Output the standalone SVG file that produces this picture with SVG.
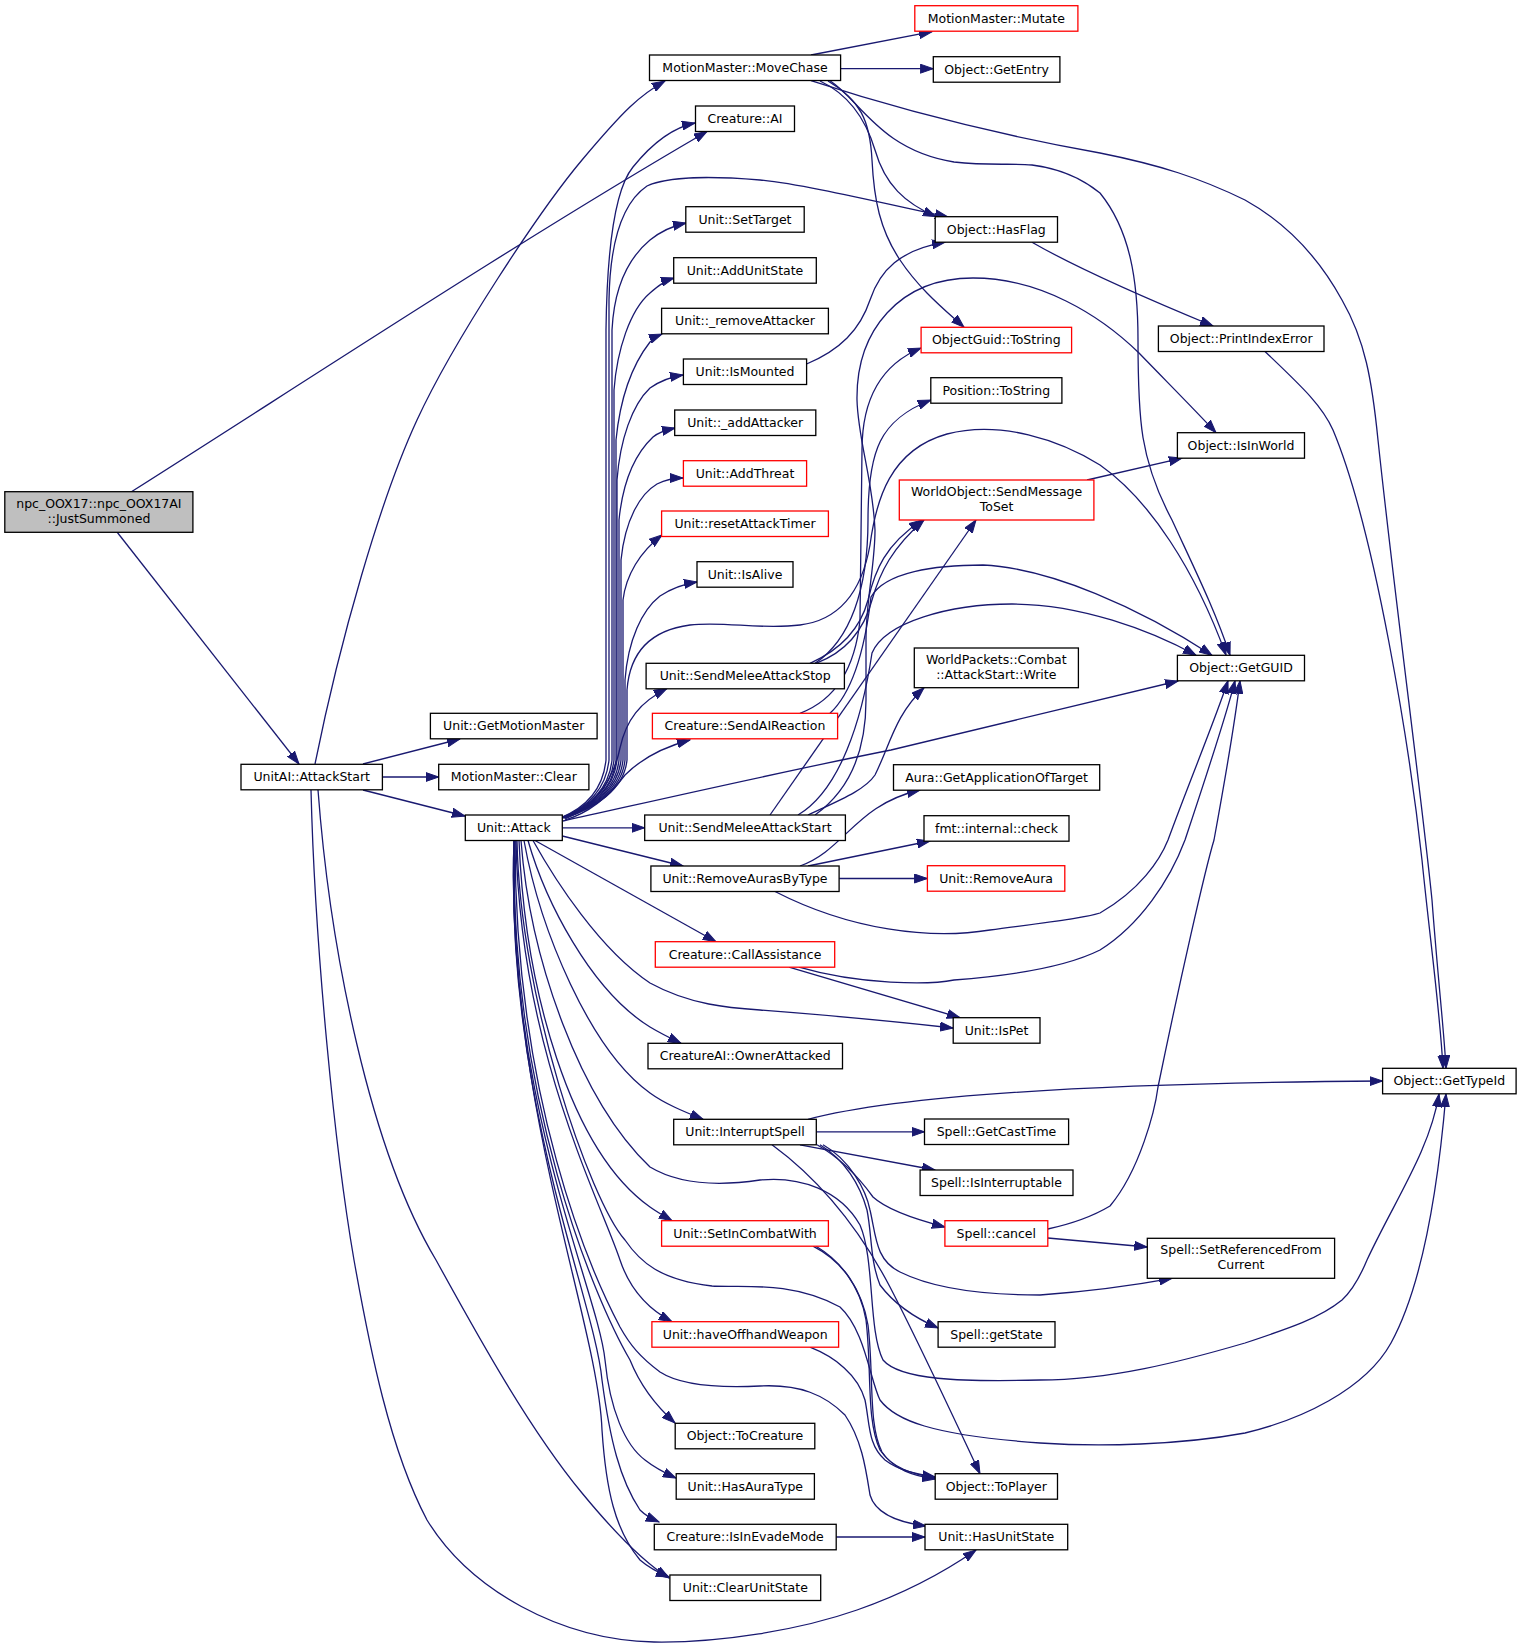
<svg xmlns="http://www.w3.org/2000/svg" width="1521" height="1648" viewBox="0 0 1521 1648">
<style>
.n rect{fill:#fff;stroke:#000;stroke-width:1.3}
.r rect{stroke:#f00}
.g rect{fill:#bfbfbf}
text{font-family:"DejaVu Sans",sans-serif;font-size:12.5px;text-anchor:middle;fill:#000}
.e path{fill:none;stroke:#191970;stroke-width:1.3;marker-end:url(#a)}
</style>
<defs>
<marker id="a" markerUnits="userSpaceOnUse" markerWidth="14" markerHeight="10" refX="13" refY="5" orient="auto"><path d="M0,0.5 L13,5 L0,9.5 z" fill="#191970" stroke="#191970" stroke-width="1"/></marker>
</defs>
<rect width="1521" height="1648" fill="#fff"/>
<g id="edges" class="e">
<path d="M131,492 C300,385 520,240 707,131.5"/>
<path d="M117,532 L299,764"/>
<path d="M315,764 C340,640 380,500 417,420 C454,340 540,210 582,160 C624,110 640,95 665,81"/>
<path d="M363,764 L460,739"/>
<path d="M382.4,777 L438.7,777"/>
<path d="M363,790 L465,816"/>
<path d="M318,790 C330,950 370,1150 436,1260 C480,1340 530,1430 582,1493 C610,1527 640,1560 669,1578"/>
<path d="M311,790 C315,950 335,1150 354,1260 C370,1350 390,1450 427,1520 C470,1590 560,1640 654,1642 C720,1643 800,1630 857,1610 C900,1595 940,1575 976,1550"/>
<path d="M560,818 C585,808 603,790 606,760 L606,330 C607,250 614,190 633,167 C650,146 670,128 695,123"/>
<path d="M561,818 C586,808 606,790 609,760 L609,300 C610,240 622,203 647,186 C670,176 710,176 760,180 C800,184 860,198 948,217"/>
<path d="M561,818 C587,808 609,790 612,760 L612,330 C614,290 626,260 650,240 C660,232 672,226 686,223"/>
<path d="M562,818 C588,808 611,790 614,760 L614,390 C617,350 630,310 650,293 C657,287 664,281 674,278"/>
<path d="M562,818 C589,808 613,790 616,760 L616,440 C620,400 632,365 650,342 C654,338 657,336 662,334"/>
<path d="M563,818 C590,808 614,790 617,760 L617,480 C620,440 632,405 650,388 C660,381 670,377 683,375"/>
<path d="M563,818 C591,808 616,790 619,760 L619,520 C623,480 636,453 653,437 C659,432 666,430 675,428"/>
<path d="M564,818 C592,808 618,790 621,760 L621,560 C625,520 640,494 657,484 C665,480 674,478 683,478"/>
<path d="M564,818 C593,808 620,790 623,760 L623,600 C626,575 640,552 662,535"/>
<path d="M565,818 C594,808 622,790 625,760 L625,680 C628,640 642,610 660,596 C672,588 684,584 697,582"/>
<path d="M565,818 C595,808 624,790 627,760 L627,690 C630,650 652,630 690,625 C725,621 760,630 800,625 C840,620 862,590 870,545 C876,500 890,450 947,434 C1000,420 1060,440 1100,465 C1150,500 1195,570 1226,655"/>
<path d="M565,819 C592,808 613,782 620,748 C626,720 640,702 667,688.5"/>
<path d="M565,820 C592,812 610,795 625,775 C640,760 660,748 690,740"/>
<path d="M563,821 C680,795 780,772 891,750 L1178,681"/>
<path d="M562.3,827.8 L644.7,827.8"/>
<path d="M562.3,836 L683,866"/>
<path d="M535,840.5 L716,941.7"/>
<path d="M533,840.5 C555,880 600,950 650,983 C690,1005 730,1008 760,1010 C850,1017 900,1022 953,1028"/>
<path d="M528,840.5 C545,900 590,990 650,1027 C660,1033 670,1038 681,1043.3"/>
<path d="M524,840.5 C540,930 590,1050 650,1093 C665,1104 685,1112 703,1119.3"/>
<path d="M521,840.5 C530,960 580,1100 650,1167 C680,1185 720,1186 760,1180 C800,1176 840,1190 860,1225 C875,1260 868,1330 883,1360 C900,1380 960,1382 1040,1380 C1110,1380 1180,1362 1245,1343 C1290,1328 1320,1318 1342,1300 C1355,1288 1362,1272 1367,1260 C1395,1200 1430,1150 1439,1094"/>
<path d="M519,840.5 C525,990 570,1150 650,1207 C657,1212 664,1216 672,1220.7"/>
<path d="M517,840.5 C520,1000 590,1200 625,1240 C640,1262 660,1280 712,1286 C740,1288 790,1280 840,1307 C865,1330 870,1380 880,1400 C895,1420 930,1435 1040,1443 C1100,1447 1180,1445 1245,1433 C1300,1420 1365,1390 1391,1343 C1420,1290 1437,1200 1446,1094"/>
<path d="M516,840.5 C520,1050 600,1200 620,1260 C630,1290 650,1310 672,1321.7"/>
<path d="M515,840.5 C515,1100 590,1270 620,1327 C630,1345 640,1357 660,1372 C680,1385 720,1388 760,1386 C800,1384 825,1395 845,1415 C862,1440 866,1470 870,1495 C875,1512 895,1522 926,1526"/>
<path d="M514,840.5 C510,1100 595,1300 630,1360 C640,1385 655,1405 675,1423"/>
<path d="M514,840.5 C505,1100 598,1290 605,1360 C610,1410 625,1445 645,1460 C655,1468 665,1473 676,1478"/>
<path d="M514,840.5 C505,1100 595,1300 602,1380 C610,1440 620,1480 640,1510 C645,1515 652,1519 659,1522"/>
<path d="M515,840.5 C505,1100 598,1320 602,1430 C606,1490 615,1530 640,1560 C648,1567 657,1572 669,1577"/>
<path d="M811,55 L932,31.7"/>
<path d="M840.6,68.7 L933.3,68.7"/>
<path d="M820,81 C850,95 866,120 875,150 C885,185 905,203 936,216.7"/>
<path d="M828,81 C860,100 870,120 872,160 C874,200 880,230 900,260 C920,290 945,310 964,327.3"/>
<path d="M830,80.7 C860,100 880,150 954,162 C990,166 1010,163 1032,165 C1070,170 1090,185 1100,193 C1130,230 1138,280 1138,340 C1138,420 1140,460 1172,520 C1195,570 1215,610 1230,655.3"/>
<path d="M811,80.7 C900,110 1000,135 1100,153 C1160,165 1200,178 1245,200 C1290,225 1320,260 1342,300 C1365,340 1372,380 1378,440 C1395,600 1422,800 1432,900 C1438,980 1444,1030 1446,1068.3"/>
<path d="M1032,242.2 C1080,270 1150,300 1213,326"/>
<path d="M1265,351.5 C1300,385 1322,405 1333,430 C1375,530 1410,750 1422,860 C1430,940 1440,1010 1443,1068.3"/>
<path d="M806.6,364 C840,350 860,330 870,300 C880,270 900,250 945,242.2"/>
<path d="M1087,480 L1182,458.2"/>
<path d="M815,663.3 C850,640 868,590 868,520 C868,450 880,420 930.8,400"/>
<path d="M810,663.3 C840,650 860,630 868,600 C875,570 885,545 922,520"/>
<path d="M816,663.3 C846,652 864,630 872,600 C880,572 892,548 924,520"/>
<path d="M800,713.3 C835,700 855,670 860,620 L862,450 C862,400 880,365 921,348"/>
<path d="M830,713.3 C855,690 866,640 871,597 C885,572 935,565 983,565 C1050,568 1140,608 1212,655.3"/>
<path d="M770,815 L976,520"/>
<path d="M798,815 C840,790 862,720 872,653 C885,622 950,604 1012,604 C1080,604 1150,630 1196,655.3"/>
<path d="M808,815 C840,800 865,790 875,775 C890,745 895,715 924,687.7"/>
<path d="M815,815 C850,790 866,750 866,700 L866,640 C866,600 875,565 875,530 C873,480 858,440 857,400 C856,330 900,278 973,278 C1040,278 1100,315 1139,353 C1170,385 1195,410 1216,432.7"/>
<path d="M800,866 C845,850 855,805 920,790"/>
<path d="M808,866 L930,841"/>
<path d="M839.1,878.5 L927.4,878.5"/>
<path d="M775,891.5 C850,930 930,940 990,930 C1050,922 1085,918 1100,913 C1140,890 1160,860 1168,840 C1190,780 1215,720 1228,680.8"/>
<path d="M799,967.2 C860,985 930,985 954,980 C1020,975 1070,965 1100,950 C1140,925 1170,880 1185,840 C1205,780 1225,720 1235,680.8"/>
<path d="M789,967.2 L960,1017.7"/>
<path d="M1047.8,1229 C1080,1222 1100,1212 1110,1206 C1140,1170 1155,1110 1158,1087 C1180,980 1205,870 1214,840 C1225,780 1235,720 1240,680.8"/>
<path d="M1047.8,1238 L1147.3,1247"/>
<path d="M816.3,1131.8 L924.5,1131.8"/>
<path d="M800,1144.8 L935,1170"/>
<path d="M817,1144.8 C835,1155 855,1172 873,1197 C885,1208 910,1218 945,1227"/>
<path d="M820,1144.8 C845,1160 860,1185 867,1210 C872,1235 870,1260 880,1285 C895,1305 915,1318 938.1,1328"/>
<path d="M823,1144.8 C850,1160 866,1190 870,1210 C876,1235 875,1260 900,1272 C940,1292 1000,1295 1040,1295 C1080,1292 1130,1286 1172,1278.3"/>
<path d="M772,1144.8 C820,1180 860,1230 890,1287 C920,1345 950,1410 980,1473.7"/>
<path d="M808,1119.3 C900,1095 1100,1083 1382.6,1081"/>
<path d="M813,1246.2 C840,1260 860,1285 866,1320 C872,1370 866,1420 880,1450 C892,1468 912,1474 935.2,1478"/>
<path d="M816,1246.2 C843,1262 862,1290 868,1325 C874,1375 868,1425 882,1452 C894,1470 914,1476 935.2,1479"/>
<path d="M810,1347.2 C835,1357 858,1375 865,1400 C870,1425 868,1445 885,1460 C898,1470 915,1474 935.2,1477"/>
<path d="M836.2,1537 L925,1537"/>
</g>
<g id="n1" class="n g"><rect x="4.8" y="491.7" width="188.1" height="40.6"/><text x="98.9" y="507.5">npc_OOX17::npc_OOX17AI</text><text x="98.9" y="522.5">::JustSummoned</text></g>
<g id="n2" class="n"><rect x="241" y="764.3" width="141.4" height="25.5"/><text x="311.7" y="781.4">UnitAI::AttackStart</text></g>
<g id="n3" class="n"><rect x="649.5" y="55" width="191.1" height="25.5"/><text x="745" y="72.1">MotionMaster::MoveChase</text></g>
<g id="n4" class="n"><rect x="695.5" y="106" width="99" height="25.5"/><text x="745" y="123.1">Creature::AI</text></g>
<g id="n5" class="n"><rect x="685.8" y="206.7" width="118.4" height="25.5"/><text x="745" y="223.8">Unit::SetTarget</text></g>
<g id="n6" class="n"><rect x="673.7" y="257.7" width="142.6" height="25.5"/><text x="745" y="274.8">Unit::AddUnitState</text></g>
<g id="n7" class="n"><rect x="661.6" y="308.3" width="166.8" height="25.5"/><text x="745" y="325.4">Unit::_removeAttacker</text></g>
<g id="n8" class="n"><rect x="683.4" y="359" width="123.2" height="25.5"/><text x="745" y="376.1">Unit::IsMounted</text></g>
<g id="n9" class="n"><rect x="674.7" y="410" width="141.1" height="25.5"/><text x="745.2" y="427.1">Unit::_addAttacker</text></g>
<g id="n10" class="n r"><rect x="683.4" y="460.7" width="123.2" height="25.5"/><text x="745" y="477.8">Unit::AddThreat</text></g>
<g id="n11" class="n r"><rect x="661.6" y="511" width="166.8" height="25.5"/><text x="745" y="528.1">Unit::resetAttackTimer</text></g>
<g id="n12" class="n"><rect x="697" y="561.7" width="96" height="25.5"/><text x="745" y="578.8">Unit::IsAlive</text></g>
<g id="n13" class="n"><rect x="646.1" y="663.3" width="198.3" height="25.5"/><text x="745.2" y="680.4">Unit::SendMeleeAttackStop</text></g>
<g id="n14" class="n r"><rect x="652.4" y="713.3" width="185.2" height="25.5"/><text x="745" y="730.4">Creature::SendAIReaction</text></g>
<g id="n15" class="n"><rect x="430.4" y="713.3" width="166.7" height="25.5"/><text x="513.7" y="730.4">Unit::GetMotionMaster</text></g>
<g id="n16" class="n"><rect x="438.7" y="764.3" width="150.2" height="25.5"/><text x="513.8" y="781.4">MotionMaster::Clear</text></g>
<g id="n17" class="n"><rect x="465.3" y="815" width="97" height="25.5"/><text x="513.8" y="832.1">Unit::Attack</text></g>
<g id="n18" class="n"><rect x="644.7" y="815" width="200.7" height="25.5"/><text x="745" y="832.1">Unit::SendMeleeAttackStart</text></g>
<g id="n19" class="n"><rect x="650.9" y="866" width="188.2" height="25.5"/><text x="745" y="883.1">Unit::RemoveAurasByType</text></g>
<g id="n20" class="n r"><rect x="655.3" y="941.7" width="179.4" height="25.5"/><text x="745" y="958.8">Creature::CallAssistance</text></g>
<g id="n21" class="n"><rect x="648" y="1043.3" width="194.5" height="25.5"/><text x="745.2" y="1060.4">CreatureAI::OwnerAttacked</text></g>
<g id="n22" class="n"><rect x="673.7" y="1119.3" width="142.6" height="25.5"/><text x="745" y="1136.4">Unit::InterruptSpell</text></g>
<g id="n23" class="n r"><rect x="661.6" y="1220.7" width="166.8" height="25.5"/><text x="745" y="1237.8">Unit::SetInCombatWith</text></g>
<g id="n24" class="n r"><rect x="651.9" y="1321.7" width="186.7" height="25.5"/><text x="745.2" y="1338.8">Unit::haveOffhandWeapon</text></g>
<g id="n25" class="n"><rect x="675.2" y="1423.3" width="139.6" height="25.5"/><text x="745" y="1440.4">Object::ToCreature</text></g>
<g id="n26" class="n"><rect x="676.2" y="1473.7" width="138.2" height="25.5"/><text x="745.3" y="1490.8">Unit::HasAuraType</text></g>
<g id="n27" class="n"><rect x="654.3" y="1524.3" width="181.9" height="25.5"/><text x="745.2" y="1541.4">Creature::IsInEvadeMode</text></g>
<g id="n28" class="n"><rect x="669.9" y="1575" width="150.8" height="25.5"/><text x="745.3" y="1592.1">Unit::ClearUnitState</text></g>
<g id="n29" class="n r"><rect x="914.8" y="5.7" width="163.1" height="25.5"/><text x="996.3" y="22.8">MotionMaster::Mutate</text></g>
<g id="n30" class="n"><rect x="933.3" y="56.7" width="126.6" height="25.5"/><text x="996.6" y="73.8">Object::GetEntry</text></g>
<g id="n31" class="n"><rect x="935.2" y="216.7" width="122.3" height="25.5"/><text x="996.3" y="233.8">Object::HasFlag</text></g>
<g id="n32" class="n r"><rect x="921.1" y="327.3" width="150.5" height="25.5"/><text x="996.3" y="344.4">ObjectGuid::ToString</text></g>
<g id="n33" class="n"><rect x="930.8" y="377.7" width="131.1" height="25.5"/><text x="996.3" y="394.8">Position::ToString</text></g>
<g id="n34" class="n r"><rect x="899.3" y="480" width="194.6" height="40"/><text x="996.6" y="496">WorldObject::SendMessage</text><text x="996.6" y="511">ToSet</text></g>
<g id="n35" class="n"><rect x="914.3" y="648" width="164.1" height="39.7"/><text x="996.3" y="663.8">WorldPackets::Combat</text><text x="996.3" y="678.8">::AttackStart::Write</text></g>
<g id="n36" class="n"><rect x="893.5" y="764.7" width="206.2" height="25.5"/><text x="996.6" y="781.8">Aura::GetApplicationOfTarget</text></g>
<g id="n37" class="n"><rect x="924" y="815.7" width="145" height="25.5"/><text x="996.5" y="832.8">fmt::internal::check</text></g>
<g id="n38" class="n r"><rect x="927.4" y="865.7" width="137.4" height="25.5"/><text x="996.1" y="882.8">Unit::RemoveAura</text></g>
<g id="n39" class="n"><rect x="953.2" y="1017.7" width="86.8" height="25.5"/><text x="996.6" y="1034.8">Unit::IsPet</text></g>
<g id="n40" class="n"><rect x="924.5" y="1119" width="144.1" height="25.5"/><text x="996.5" y="1136.1">Spell::GetCastTime</text></g>
<g id="n41" class="n"><rect x="920.1" y="1170" width="152.9" height="25.5"/><text x="996.5" y="1187.1">Spell::IsInterruptable</text></g>
<g id="n42" class="n r"><rect x="944.9" y="1220.7" width="102.9" height="25.5"/><text x="996.3" y="1237.8">Spell::cancel</text></g>
<g id="n43" class="n"><rect x="938.1" y="1321.7" width="116.9" height="25.5"/><text x="996.5" y="1338.8">Spell::getState</text></g>
<g id="n44" class="n"><rect x="935.2" y="1473.7" width="122.3" height="25.5"/><text x="996.3" y="1490.8">Object::ToPlayer</text></g>
<g id="n45" class="n"><rect x="925" y="1524.3" width="142.7" height="25.5"/><text x="996.3" y="1541.4">Unit::HasUnitState</text></g>
<g id="n46" class="n"><rect x="1158.4" y="326" width="165.6" height="25.5"/><text x="1241.2" y="343.1">Object::PrintIndexError</text></g>
<g id="n47" class="n"><rect x="1177.4" y="432.7" width="127.1" height="25.5"/><text x="1241" y="449.8">Object::IsInWorld</text></g>
<g id="n48" class="n"><rect x="1177.4" y="655.3" width="127.1" height="25.5"/><text x="1241" y="672.4">Object::GetGUID</text></g>
<g id="n49" class="n"><rect x="1147.3" y="1238.3" width="187.3" height="40"/><text x="1241" y="1254.3">Spell::SetReferencedFrom</text><text x="1241" y="1269.3">Current</text></g>
<g id="n50" class="n"><rect x="1382.6" y="1068.3" width="133.5" height="25.5"/><text x="1449.3" y="1085.4">Object::GetTypeId</text></g>
</svg>
